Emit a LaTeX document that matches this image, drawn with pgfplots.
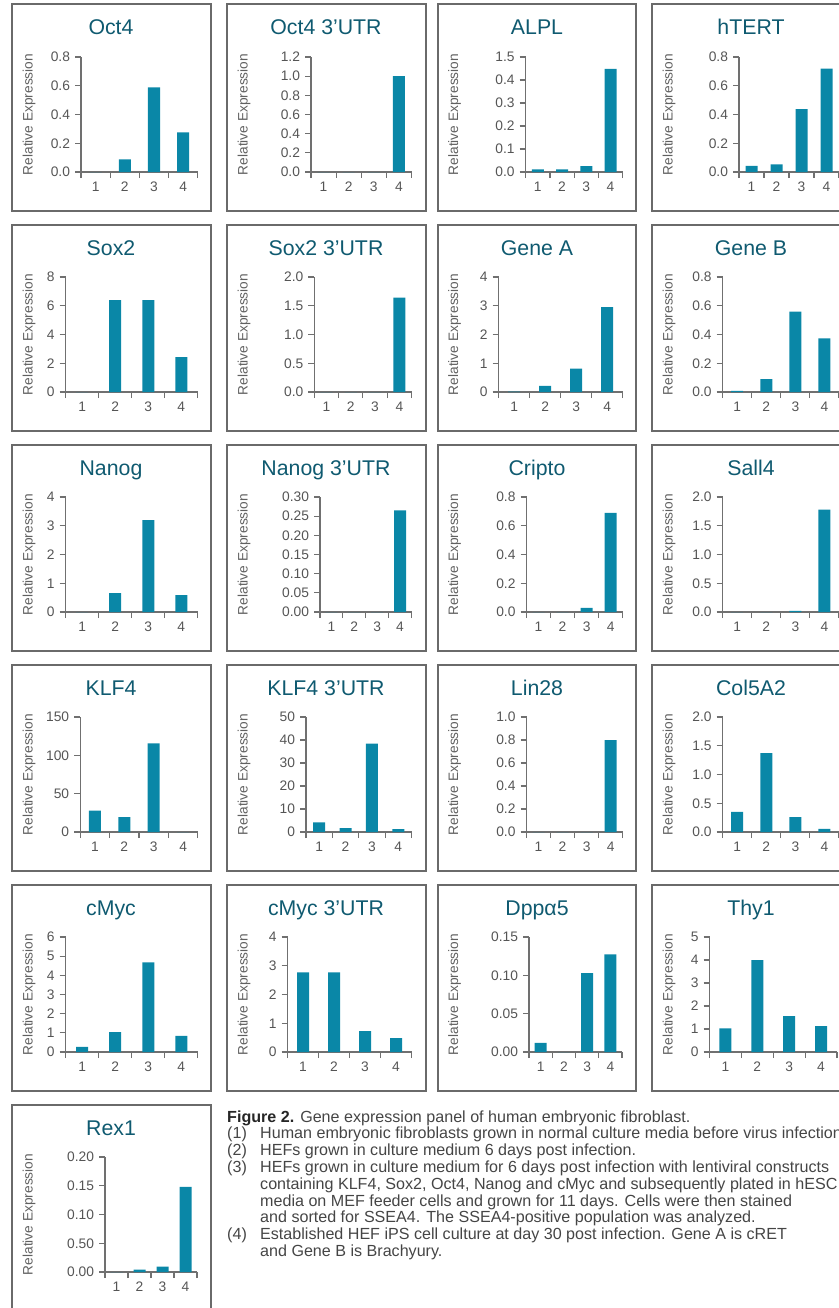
\documentclass[border=0pt]{standalone}
\usepackage{fontspec}
\setmainfont{Liberation Sans}
\usepackage{pgfplots}
\pgfplotsset{compat=1.18}
\definecolor{barcol}{HTML}{0A87A7}
\definecolor{titlecol}{HTML}{0F5A70}
\definecolor{framecol}{HTML}{6A6A6A}
\definecolor{axisgray}{HTML}{707070}
\definecolor{tickgray}{HTML}{555555}
\definecolor{labgray}{HTML}{606060}
\definecolor{capgray}{HTML}{454545}
\newcommand\ticksize{\fontsize{13.8}{15}\selectfont}
\newcommand\titlesize{\fontsize{21.3}{24}\selectfont}
\newcommand\labsize{\fontsize{13.7}{15}\selectfont}
\newcommand\capsize{\fontsize{16.1}{16.8}\selectfont}
\pgfplotsset{
  panel/.style={
    scale only axis, anchor=south west,
    axis lines=left, axis line style={-, draw=axisgray, line width=1.1pt},
    xmin=0.5, xmax=4.5, ymin=0, height=115pt,
    xtick={1,2,3,4}, xticklabels={1,2,3,4},
    minor xtick={0.5,1.5,2.5,3.5,4.5},
    tick align=outside, tick pos=left,
    major tick length=6pt, minor tick length=6pt,
    tick style={draw=axisgray, line width=1.1pt},
    major x tick style={draw=none},
    ticklabel style={font=\ticksize, text=tickgray},
    yticklabel style={xshift=-1.5pt},
    ybar, bar width=12pt,
  },
  bars/.style={fill=barcol, draw=none},
}
\newcommand\panelbox[5]{% frame left, row offset (row*220), title x, title, ylabel x
  \draw[framecol, line width=2pt] (#1,{-4.5-#2}) rectangle ({#1+198.5},{-210.5-#2});
  \node[anchor=base, font=\titlesize, text=titlecol, inner sep=0] at (#3,{-35-#2}) {#4};
  \node[rotate=90, font=\labsize, text=labgray, inner sep=0] at (#5,{-114.5-#2}) {Relative Expression};
}
\begin{document}
\begin{tikzpicture}[x=1pt,y=1pt]
\useasboundingbox (0,0) rectangle (838,-1308);
% frames, titles, y labels
\panelbox{12}{0}{111}{Oct4}{29}
\panelbox{227}{0}{326}{Oct4 3’UTR}{244}
\panelbox{437.5}{0}{537}{ALPL}{454.5}
\panelbox{652}{0}{751}{hTERT}{669}
\panelbox{12}{220}{111}{Sox2}{29}
\panelbox{227}{220}{326}{Sox2 3’UTR}{244}
\panelbox{437.5}{220}{537}{Gene A}{454.5}
\panelbox{652}{220}{751}{Gene B}{669}
\panelbox{12}{440}{111}{Nanog}{29}
\panelbox{227}{440}{326}{Nanog 3’UTR}{244}
\panelbox{437.5}{440}{537}{Cripto}{454.5}
\panelbox{652}{440}{751}{Sall4}{669}
\panelbox{12}{660}{111}{KLF4}{29}
\panelbox{227}{660}{326}{KLF4 3’UTR}{244}
\panelbox{437.5}{660}{537}{Lin28}{454.5}
\panelbox{652}{660}{751}{Col5A2}{669}
\panelbox{12}{880}{111}{cMyc}{29}
\panelbox{227}{880}{326}{cMyc 3’UTR}{244}
\panelbox{437.5}{880}{537}{Dppα5}{454.5}
\panelbox{652}{880}{751}{Thy1}{669}
\draw[framecol, line width=2pt] (12,-1330) -- (12,-1104.5) -- (210.5,-1104.5) -- (210.5,-1330);
\node[anchor=base, font=\titlesize, text=titlecol, inner sep=0] at (111,-1135) {Rex1};
\node[rotate=90, font=\labsize, text=labgray, inner sep=0] at (29,-1214.5) {Relative Expression};

% ---------- Row 1 ----------
\begin{axis}[panel, at={(81pt,-172pt)}, width=116.8pt, ymax=0.8,
  ytick={0,0.2,0.4,0.6,0.8}, yticklabels={0.0,0.2,0.4,0.6,0.8}]
\addplot[bars] coordinates {(1,0) (2,0.088) (3,0.589) (4,0.276)};
\end{axis}
\begin{axis}[panel, at={(311pt,-172pt)}, width=100.5pt, ymax=1.2,
  ytick={0,0.2,0.4,0.6,0.8,1.0,1.2}, yticklabels={0.0,0.2,0.4,0.6,0.8,1.0,1.2}]
\addplot[bars] coordinates {(1,0) (2,0) (3,0) (4,1.0)};
\end{axis}
\begin{axis}[panel, at={(525.7pt,-172pt)}, width=97pt, ymax=0.5,
  ytick={0,0.1,0.2,0.3,0.4,0.5}, yticklabels={0.0,0.1,0.2,0.3,0.4,1.5}]
\addplot[bars] coordinates {(1,0.011) (2,0.011) (3,0.026) (4,0.448)};
\end{axis}
\begin{axis}[panel, at={(739pt,-172pt)}, width=100pt, ymax=0.8,
  ytick={0,0.2,0.4,0.6,0.8}, yticklabels={0.0,0.2,0.4,0.6,0.8}]
\addplot[bars] coordinates {(1,0.042) (2,0.053) (3,0.438) (4,0.72)};
\end{axis}
% ---------- Row 2 ----------
\begin{axis}[panel, at={(65.7pt,-392pt)}, width=132.1pt, ymax=8,
  ytick={0,2,4,6,8}, yticklabels={0,2,4,6,8}]
\addplot[bars] coordinates {(1,0) (2,6.4) (3,6.4) (4,2.42)};
\end{axis}
\begin{axis}[panel, at={(314.3pt,-392pt)}, width=97.2pt, ymax=2,
  ytick={0,0.5,1,1.5,2}, yticklabels={0.0,0.5,1.0,1.5,2.0}]
\addplot[bars] coordinates {(1,0) (2,0) (3,0) (4,1.64)};
\end{axis}
\begin{axis}[panel, at={(498.7pt,-392pt)}, width=124pt, ymax=4,
  ytick={0,1,2,3,4}, yticklabels={0,1,2,3,4}]
\addplot[bars] coordinates {(1,0.012) (2,0.21) (3,0.81) (4,2.95)};
\end{axis}
\begin{axis}[panel, at={(722.6pt,-392pt)}, width=116.4pt, ymax=0.8,
  ytick={0,0.2,0.4,0.6,0.8}, yticklabels={0.0,0.2,0.4,0.6,0.8}]
\addplot[bars] coordinates {(1,0.008) (2,0.09) (3,0.56) (4,0.373)};
\end{axis}
% ---------- Row 3 ----------
\begin{axis}[panel, at={(65.7pt,-612pt)}, width=132.1pt, ymax=4,
  ytick={0,1,2,3,4}, yticklabels={0,1,2,3,4}]
\addplot[bars] coordinates {(1,0) (2,0.66) (3,3.2) (4,0.59)};
\end{axis}
\begin{axis}[panel, at={(320pt,-612pt)}, width=91.5pt, ymax=0.3,
  ytick={0,0.05,0.1,0.15,0.2,0.25,0.3}, yticklabels={0.00,0.05,0.10,0.15,0.20,0.25,0.30}]
\addplot[bars] coordinates {(1,0) (2,0) (3,0) (4,0.265)};
\end{axis}
\begin{axis}[panel, at={(526.5pt,-612pt)}, width=96.2pt, ymax=0.8,
  ytick={0,0.2,0.4,0.6,0.8}, yticklabels={0.0,0.2,0.4,0.6,0.8}]
\addplot[bars] coordinates {(1,0) (2,0) (3,0.028) (4,0.69)};
\end{axis}
\begin{axis}[panel, at={(722.6pt,-612pt)}, width=116.4pt, ymax=2,
  ytick={0,0.5,1,1.5,2}, yticklabels={0.0,0.5,1.0,1.5,2.0}]
\addplot[bars] coordinates {(1,0) (2,0) (3,0.02) (4,1.78)};
\end{axis}
% ---------- Row 4 ----------
\begin{axis}[panel, at={(80.2pt,-832pt)}, width=117.6pt, ymax=150,
  ytick={0,50,100,150}, yticklabels={0,50,100,150}]
\addplot[bars] coordinates {(1,28) (2,19.5) (3,115.5) (4,0)};
\end{axis}
\begin{axis}[panel, at={(306pt,-832pt)}, width=105.5pt, ymax=50,
  ytick={0,10,20,30,40,50}, yticklabels={0,10,20,30,40,50}]
\addplot[bars] coordinates {(1,4.2) (2,1.7) (3,38.4) (4,1.3)};
\end{axis}
\begin{axis}[panel, at={(526.5pt,-832pt)}, width=96.2pt, ymax=1,
  ytick={0,0.2,0.4,0.6,0.8,1}, yticklabels={0.0,0.2,0.4,0.6,0.8,1.0}]
\addplot[bars] coordinates {(1,0) (2,0) (3,0) (4,0.8)};
\end{axis}
\begin{axis}[panel, at={(722.6pt,-832pt)}, width=116.4pt, ymax=2,
  ytick={0,0.5,1,1.5,2}, yticklabels={0.0,0.5,1.0,1.5,2.0}]
\addplot[bars] coordinates {(1,0.35) (2,1.37) (3,0.26) (4,0.055)};
\end{axis}
% ---------- Row 5 ----------
\begin{axis}[panel, at={(65.7pt,-1052pt)}, width=132.1pt, ymax=6,
  ytick={0,1,2,3,4,5,6}, yticklabels={0,1,2,3,4,5,6}]
\addplot[bars] coordinates {(1,0.27) (2,1.04) (3,4.68) (4,0.84)};
\end{axis}
\begin{axis}[panel, at={(287.5pt,-1052pt)}, width=124pt, ymax=4,
  ytick={0,1,2,3,4}, yticklabels={0,1,2,3,4}]
\addplot[bars] coordinates {(1,2.77) (2,2.77) (3,0.73) (4,0.48)};
\end{axis}
\begin{axis}[panel, at={(529pt,-1052pt)}, width=93pt, ymax=0.15,
  ytick={0,0.05,0.1,0.15}, yticklabels={0.00,0.05,0.10,0.15}]
\addplot[bars] coordinates {(1,0.012) (2,0) (3,0.103) (4,0.1275)};
\end{axis}
\begin{axis}[panel, at={(709.5pt,-1052pt)}, width=127.5pt, ymax=5,
  ytick={0,1,2,3,4,5}, yticklabels={0,1,2,3,4,5}]
\addplot[bars] coordinates {(1,1.03) (2,4.0) (3,1.56) (4,1.13)};
\end{axis}
% ---------- Row 6 ----------
\begin{axis}[panel, at={(105pt,-1272pt)}, width=92pt, ymax=0.2,
  ytick={0,0.05,0.1,0.15,0.2}, yticklabels={0.00,0.50,0.10,0.15,0.20}]
\addplot[bars] coordinates {(1,0) (2,0.004) (3,0.0092) (4,0.148)};
\end{axis}

% caption
\begin{scope}[every node/.style={anchor=base west, inner sep=0, font=\capsize, text=capgray}]
\node at (227,-1122) {\textcolor{black!85}{\textbf{Figure 2.}} Gene expression panel of human embryonic fibroblast.};
\node at (227,-1138.8) {(1)};
\node at (260,-1138.8) {Human embryonic fibroblasts grown in normal culture media before virus infection.};
\node at (227,-1155.6) {(2)};
\node at (260,-1155.6) {HEFs grown in culture medium 6 days post infection.};
\node at (227,-1172.4) {(3)};
\node at (260,-1172.4) {HEFs grown in culture medium for 6 days post infection with lentiviral constructs};
\node at (260,-1189.2) {containing KLF4, Sox2, Oct4, Nanog and cMyc and subsequently plated in hESC};
\node at (260,-1206) {media on MEF feeder cells and grown for 11 days. Cells were then stained};
\node at (260,-1222.8) {and sorted for SSEA4. The SSEA4-positive population was analyzed.};
\node at (227,-1239.6) {(4)};
\node at (260,-1239.6) {Established HEF iPS cell culture at day 30 post infection. Gene A is cRET};
\node at (260,-1256.4) {and Gene B is Brachyury.};
\end{scope}
\end{tikzpicture}
\end{document}
